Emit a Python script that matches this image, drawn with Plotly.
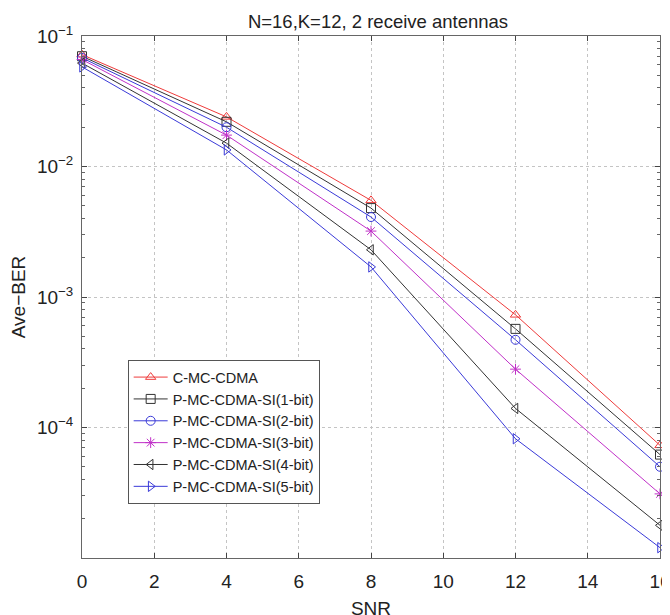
import plotly.graph_objects as go

snr = [0, 4, 8, 12, 16]
names = ["C-MC-CDMA", "P-MC-CDMA-SI(1-bit)", "P-MC-CDMA-SI(2-bit)",
         "P-MC-CDMA-SI(3-bit)", "P-MC-CDMA-SI(4-bit)", "P-MC-CDMA-SI(5-bit)"]
ber_c = [0.072, 0.024, 0.0055, 7.3e-4, 7.3e-5]
ber_1 = [0.070, 0.022, 0.0048, 5.7e-4, 6.2e-5]
ber_2 = [0.068, 0.020, 0.0041, 4.7e-4, 5.0e-5]
ber_3 = [0.066, 0.0174, 0.0032, 2.8e-4, 3.1e-5]
ber_4 = [0.062, 0.0151, 0.0023, 1.4e-4, 1.78e-5]
ber_5 = [0.058, 0.0134, 0.0017, 8.2e-5, 1.2e-5]
series = [ber_c, ber_1, ber_2, ber_3, ber_4, ber_5]
colors = ["#ee3b3b", "#333333", "#3a3ad8", "#c030c8", "#333333", "#3a3ad8"]
symbols = ["triangle-up-open", "square-open", "circle-open", "asterisk-open",
           "triangle-left-open", "triangle-right-open"]
ytickvals = [1e-1, 1e-2, 1e-3, 1e-4]
yticktext = ["10<sup>−1</sup>", "10<sup>−2</sup>", "10<sup>−3</sup>", "10<sup>−4</sup>"]
xtickvals = [0, 2, 4, 6, 8, 10, 12, 14, 16]

fig = go.Figure()
for nm, ys, c, s in zip(names, series, colors, symbols):
    fig.add_trace(go.Scatter(x=snr, y=ys, name=nm, mode="lines+markers",
                             cliponaxis=False,
                             line=dict(color=c, width=1),
                             marker=dict(symbol=s, size=9, color=c,
                                         line=dict(color=c, width=1))))

# page body has an 8px margin: figure is offset by (8, 8) in the window
font = "Liberation Sans, Arial, sans-serif"
fig.update_layout(
    width=670, height=615,
    margin=dict(l=74, r=18, t=28, b=65),
    paper_bgcolor="white", plot_bgcolor="white",
    font=dict(family=font, color="#222222", size=17),
    title=dict(text="N=16,K=12, 2 receive antennas", x=370 / 670, xanchor="center",
               y=1 - 14 / 615, yanchor="middle", font=dict(size=18.5)),
    legend=dict(x=0.079, y=0.379, xanchor="left", yanchor="top",
                bgcolor="white", bordercolor="#555555", borderwidth=1,
                font=dict(size=14.5), tracegroupgap=0, itemwidth=34),
    showlegend=True,
)
fig.update_xaxes(range=[0, 16], tickvals=xtickvals, ticks="inside", ticklen=5,
                 showline=True, linecolor="#666666", linewidth=1, mirror="ticks",
                 showgrid=True, gridcolor="#c4c4c4", griddash="dot", gridwidth=1,
                 zeroline=False, tickfont=dict(size=19), ticklabeloverflow="allow",
                 automargin=False, ticklabelstandoff=6,
                 title=dict(text="SNR", standoff=10, font=dict(size=19)))
fig.update_yaxes(type="log", range=[-5, -1], tickvals=ytickvals, ticktext=yticktext,
                 ticks="inside", ticklen=5, automargin=False, ticklabelstandoff=4,
                 showline=True, linecolor="#666666", linewidth=1, mirror="ticks",
                 showgrid=True, gridcolor="#c4c4c4", griddash="dot", gridwidth=1,
                 zeroline=False, tickfont=dict(size=19),
                 minor=dict(ticks="inside", ticklen=3, tickcolor="#666666",
                            dtick="D1", showgrid=False),
                 title=dict(text="Ave−BER", standoff=6, font=dict(size=19)))
fig.write_html("out.html")
